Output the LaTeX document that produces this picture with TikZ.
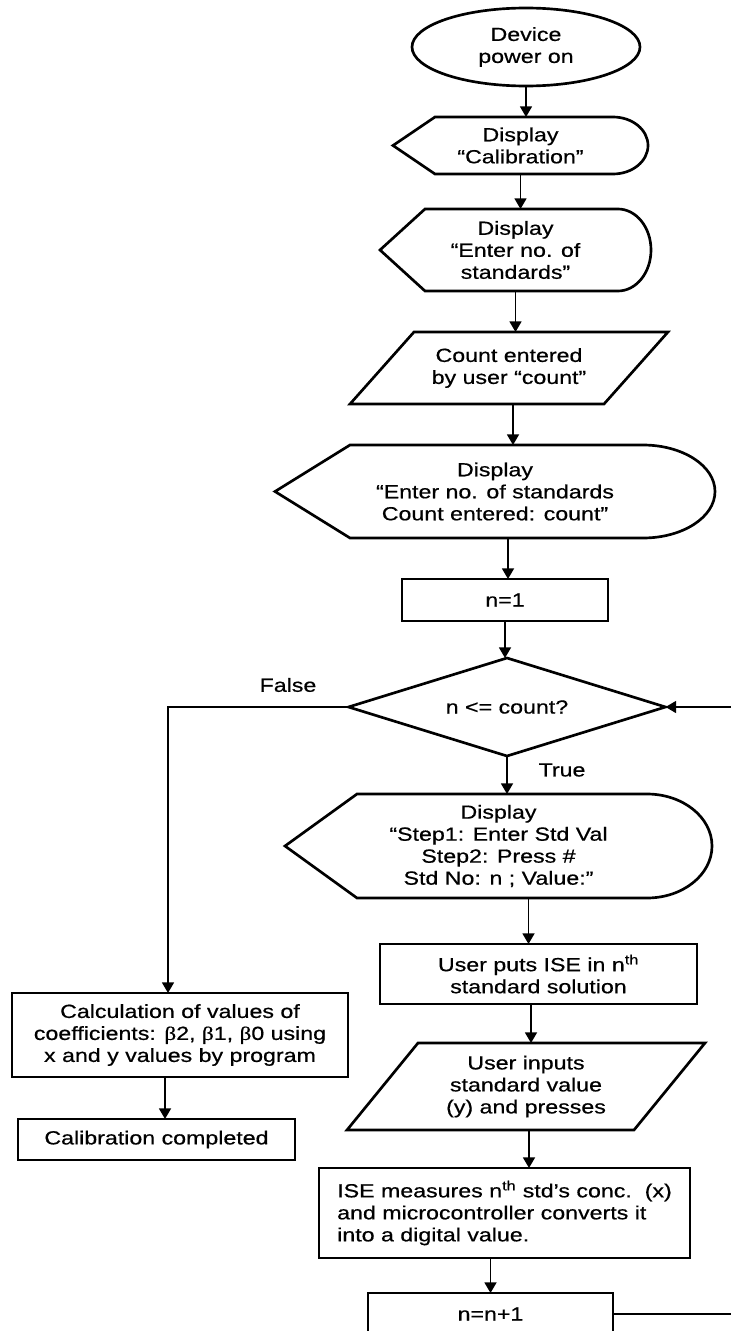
\documentclass[tikz,border=0pt]{standalone}
\usepackage{fontspec}
\setmainfont{Liberation Sans}[FakeStretch=1.22,FakeBold=0.6]
\newfontfamily\grk{Liberation Serif}[FakeStretch=1.22,FakeBold=0.6]
\usetikzlibrary{shapes.geometric,arrows.meta,calc}
\newcommand\dispoutline[3]{%
  \draw[shapeline] (#1.west) -- ([xshift=#2]#1.north west) -- ([xshift=-#3]#1.north east)
    .. controls ([xshift={-0.4477*#3}]#1.north east) and ($(#1.east)!0.5523!(#1.north east)$) .. (#1.east)
    .. controls ($(#1.east)!0.5523!(#1.south east)$) and ([xshift={-0.4477*#3}]#1.south east) .. ([xshift=-#3]#1.south east)
    -- ([xshift=#2]#1.south west) -- cycle;}
\newcommand\paraoutline[2]{%
  \draw[shapeline] ([xshift=#2]#1.north west) -- (#1.north east) -- ([xshift=-#2]#1.south east) -- (#1.south west) -- cycle;}
\begin{document}
\begin{tikzpicture}[x=0.75pt,y=-0.75pt,
  every node/.style={font=\fontsize{14.25pt}{16.5pt}\selectfont},
  txt/.style={align=center, inner sep=0pt, outer sep=0pt},
  rbox/.style={txt, draw, line width=2pt},
  shapeline/.style={line width=2pt, line join=miter},
  arr/.style={line width=1.3pt, -{Triangle[length=8pt,width=9pt]}}
]
\clip (0,0) rectangle (731,1331);
\fill[white] (0,0) rectangle (731,1331);

% nodes
\node[txt, draw, shape=ellipse, line width=2pt, minimum width=171pt, minimum height=58.5pt] (E) at (526,47) {Device\\power on};

\node[txt, minimum width=191.25pt, minimum height=42.75pt] (D1) at (520.5,145.5) {Display\\“Calibration”};
\dispoutline{D1}{31.5pt}{26.25pt}

\node[txt, minimum width=203.25pt, minimum height=61.5pt] (D2) at (515.5,250) {Display\\“Enter no. of\\standards”};
\dispoutline{D2}{33.75pt}{24.75pt}

\node[txt, minimum width=238.5pt, minimum height=54pt] (P1) at (509,368) {Count entered\\by user “count”};
\paraoutline{P1}{48pt}

\node[txt, minimum width=330pt, minimum height=69.75pt] (D3) at (495,491.5) {Display\\“Enter no. of standards\\Count entered: count”};
\dispoutline{D3}{56.25pt}{54pt}

\node[rbox, minimum width=154.5pt, minimum height=31.5pt] (N1) at (505,600) {n=1};

\node[txt, draw, shape=diamond, aspect=3.2, line width=2pt, minimum width=237.75pt, minimum height=73.5pt] (C) at (507,707) {n <= count?};

\node[txt, minimum width=320.25pt, minimum height=78pt] (D4) at (498.5,846) {Display\\“Step1: Enter Std Val\\Step2: Press \#\\Std No: n ; Value:”};
\dispoutline{D4}{54pt}{48.75pt}

\node[rbox, minimum width=237.75pt, minimum height=45pt] (U1) at (538.5,974) {User puts ISE in n\textsuperscript{th}\\standard solution};

\node[txt, minimum width=268.5pt, minimum height=65.25pt] (P2) at (526,1086.5) {User inputs\\standard value\\(y) and presses};
\paraoutline{P2}{53.25pt}

\node[rbox, align=left, minimum width=278.25pt, minimum height=67.5pt] (M) at (504.5,1213) {ISE measures n\textsuperscript{th} std’s conc.\ \ (x)\\and microcontroller converts it\\into a digital value.};

\node[rbox, minimum width=183.75pt, minimum height=31.5pt] (N2) at (490.5,1314) {n=n+1};

\node[rbox, minimum width=252pt, minimum height=63pt] (Calc) at (180,1035) {Calculation of values of\\coefficients: {\grk β}2, {\grk β}1, {\grk β}0 using\\x and y values by program};

\node[rbox, minimum width=207.75pt, minimum height=30.75pt] (Done) at (156.5,1139.5) {Calibration completed};

\node (Lf) at (288,685) {False};
\node (Lt) at (562,770) {True};

% connectors
\draw[arr] (E.south) -- (E.south |- D1.north);
\draw[arr] (D1.south) -- (D1.south |- D2.north);
\draw[arr] (D2.south) -- (D2.south |- P1.north);
\draw[arr] ([xshift=3pt]P1.south) -- ([xshift=3pt]P1.south |- D3.north);
\draw[arr] ([xshift=2.25pt]N1.north |- D3.south) -- ([xshift=2.25pt]N1.north);
\draw[arr] (N1.south) -- (N1.south |- C.north);
\draw[arr] (C.south) -- (C.south |- D4.north);
\draw[arr] ([xshift=-7.5pt]U1.north |- D4.south) -- ([xshift=-7.5pt]U1.north);
\draw[arr] ([xshift=-5.625pt]U1.south) -- ([xshift=-5.625pt]U1.south |- P2.north);
\draw[arr] ([xshift=2.25pt]P2.south) -- ([xshift=2.25pt]P2.south |- M.north);
\draw[arr] (N2.north |- M.south) -- (N2.north);
\draw[arr] (C.west) -| ([xshift=-9pt]Calc.north);
\draw[arr] ([xshift=-11.25pt]Calc.south) -- ([xshift=-11.25pt]Calc.south |- Done.north);
\coordinate (RB) at (745,1314);
\coordinate (RT) at (745,707);
\draw[arr] (N2.east) -- (RB) -- (RT) -- (C.east);
\end{tikzpicture}
\end{document}
